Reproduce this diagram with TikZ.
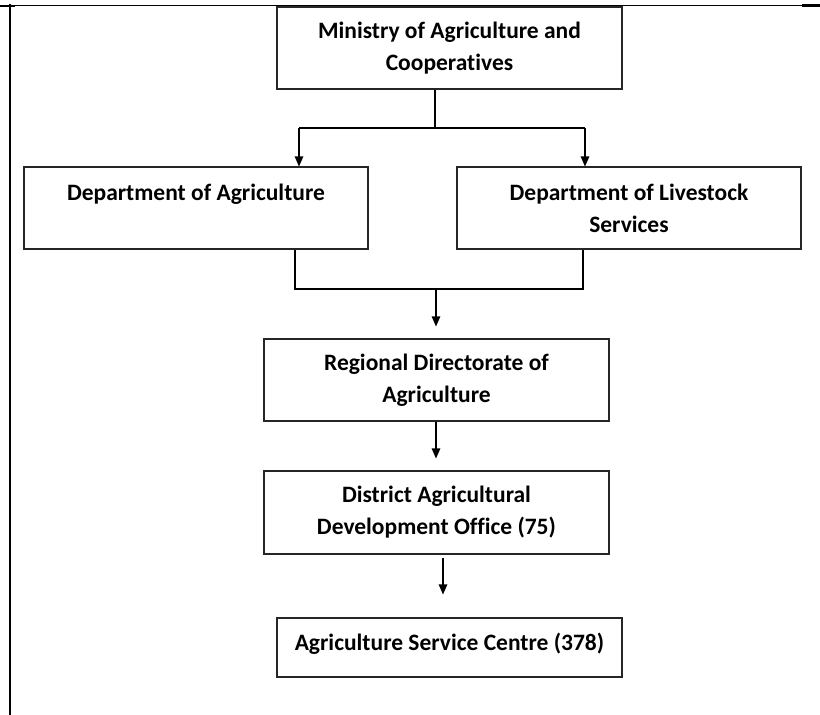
\documentclass[tikz,border=0pt]{standalone}
\usepackage{fontspec}
\setmainfont{Carlito}[Ligatures=NoCommon]
\usetikzlibrary{arrows.meta}
\begin{document}
\begin{tikzpicture}[x=1pt,y=-1pt,
  box/.style={draw=black!85, line width=1.1pt, inner sep=0pt, align=center,
    font=\fontsize{23.5}{32}\selectfont\bfseries},
  conn/.style={line width=1.1pt, black},
  arr/.style={conn, -{Triangle[length=10pt,width=8.5pt]}}]
\useasboundingbox (0,0) rectangle (820,715);
% frame
\draw[line width=1pt] (5,5) -- (820,5);
\draw[line width=2pt] (0,5.5) -- (15,5.5);
\draw[line width=2.5pt] (802,5.5) -- (820,5.5);
\draw[line width=2.2pt] (10,4) -- (10,715);
% boxes
\node[box, minimum width=345pt, minimum height=82pt] (min) at (449.5,48) {Ministry of Agriculture and\\Cooperatives};
\node[box, minimum width=344pt, minimum height=82pt] (dag) at (196,208) {Department of Agriculture\\\mbox{}};
\node[box, minimum width=344pt, minimum height=82pt] (dls) at (629,208) {Department of Livestock\\Services};
\node[box, minimum width=345pt, minimum height=82pt] (reg) at (436.5,380) {Regional Directorate of\\Agriculture};
\node[box, minimum width=345pt, minimum height=83pt] (dis) at (436.5,512.5) {District Agricultural\\Development Office (75)};
\node[box, minimum width=345pt, minimum height=59pt] (asc) at (449.5,647.5) {Agriculture Service Centre (378)\\[-21pt]\mbox{}};
% connectors
\coordinate (j1) at (435,128);
\coordinate (l1) at (299,128);
\coordinate (r1) at (585,128);
\draw[conn] (min.south -| j1) -- (j1);
\draw[conn] (l1) -- (r1);
\draw[arr] (l1) -- (l1 |- dag.north);
\draw[arr] (r1) -- (r1 |- dls.north);
\coordinate (l2) at (295,289);
\coordinate (r2) at (583,289);
\coordinate (j2) at (436,289);
\draw[conn] (dag.south -| l2) -- (l2) -- (r2) -- (dls.south -| r2);
\draw[arr, shorten >=12pt] (j2) -- (j2 |- reg.north);
\draw[arr, shorten >=12pt] (reg.south -| j2) -- (dis.north -| j2);
\coordinate (k) at (443,0);
\draw[arr, shorten <=3pt, shorten >=23pt] (dis.south -| k) -- (asc.north -| k);
\end{tikzpicture}
\end{document}
